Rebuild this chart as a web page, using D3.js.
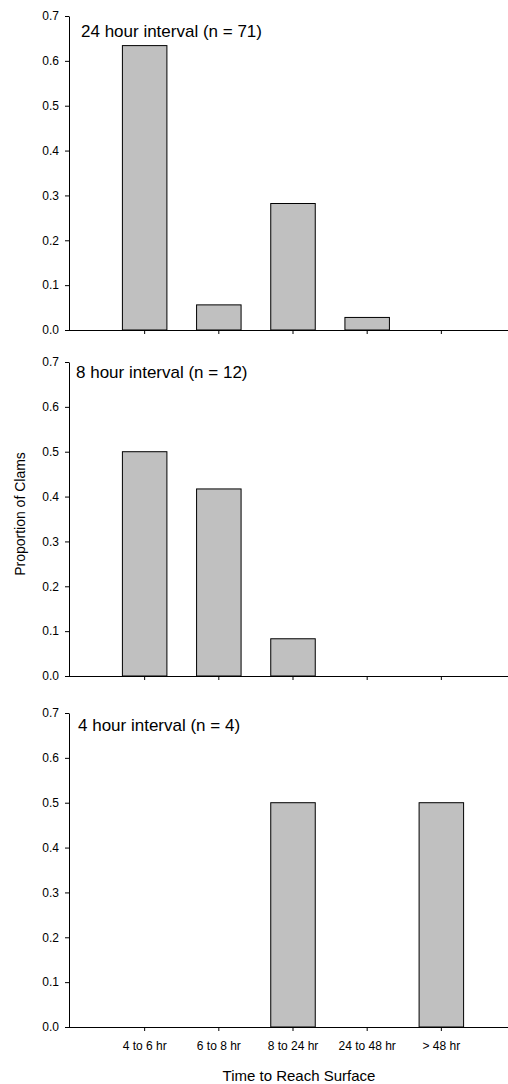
<!DOCTYPE html>
<html><head><meta charset="utf-8">
<script src="https://cdn.jsdelivr.net/npm/d3@7"></script>
<style>body{margin:0;background:#fff}svg{display:block}text{font-family:"Liberation Sans",Arial,sans-serif}</style>
</head><body>
<svg id="c" width="508" height="1084"></svg>
<script>
const categories = ["4 to 6 hr","6 to 8 hr","8 to 24 hr","24 to 48 hr","> 48 hr"];
const titles = ["24 hour interval (n = 71)","8 hour interval (n = 12)","4 hour interval (n = 4)"];
const values24 = [0.634, 0.056, 0.282, 0.028, 0];
const values8 = [0.5, 0.417, 0.083, 0, 0];
const values4 = [0, 0, 0.5, 0, 0.5];
const yTicks = [0,0.1,0.2,0.3,0.4,0.5,0.6,0.7];
const seriesList = [values24, values8, values4];

const svg = d3.select("#c");
const x0 = 69;
const x = d3.scaleBand().domain(categories).range([x0, 517]).paddingInner(0.4).paddingOuter(0.72);
const panels = [{top:16,bottom:330,tx:81,ty:36.5},{top:362,bottom:676,tx:76,ty:378},{top:713,bottom:1027,tx:78,ty:731}];

panels.forEach((p,i)=>{
  const y = d3.scaleLinear().domain([0,0.7]).range([p.bottom,p.top]);
  const g = svg.append("g");
  g.selectAll("rect").data(seriesList[i]).join("rect")
    .attr("x",(d,j)=>x(categories[j]))
    .attr("width",x.bandwidth())
    .attr("y",d=>y(d))
    .attr("height",d=>p.bottom-y(d))
    .attr("fill","#c0c0c0").attr("stroke","#000").attr("stroke-width",1)
    .attr("display",d=>d>0?null:"none");
  const ya = g.append("g").attr("transform",`translate(${x0},0)`)
    .call(d3.axisLeft(y).tickValues(yTicks).tickFormat(d3.format(".1f")).tickSize(4).tickPadding(6).tickSizeOuter(0));
  ya.select(".domain").attr("stroke","#000");
  ya.selectAll("text").attr("font-size",12).attr("fill","#000").attr("font-family","'Liberation Sans',Arial,sans-serif");
  const xa = g.append("g").attr("transform",`translate(0,${p.bottom})`)
    .call(d3.axisBottom(x).tickSize(4).tickSizeOuter(0).tickPadding(10).tickFormat(i===2?(d=>d):()=>""));
  xa.select(".domain").attr("d",`M${x0},0.5H520`).attr("stroke","#000");
  xa.selectAll("text").attr("font-size",12).attr("fill","#000").attr("font-family","'Liberation Sans',Arial,sans-serif");
  g.append("text").attr("x",p.tx).attr("y",p.ty).attr("font-size",17).text(titles[i]);
});

svg.append("text").attr("transform","translate(25,514) rotate(-90)").attr("text-anchor","middle").attr("font-size",14).text("Proportion of Clams");
svg.append("text").attr("x",299).attr("y",1081).attr("text-anchor","middle").attr("font-size",15).text("Time to Reach Surface");
</script>
</body></html>
